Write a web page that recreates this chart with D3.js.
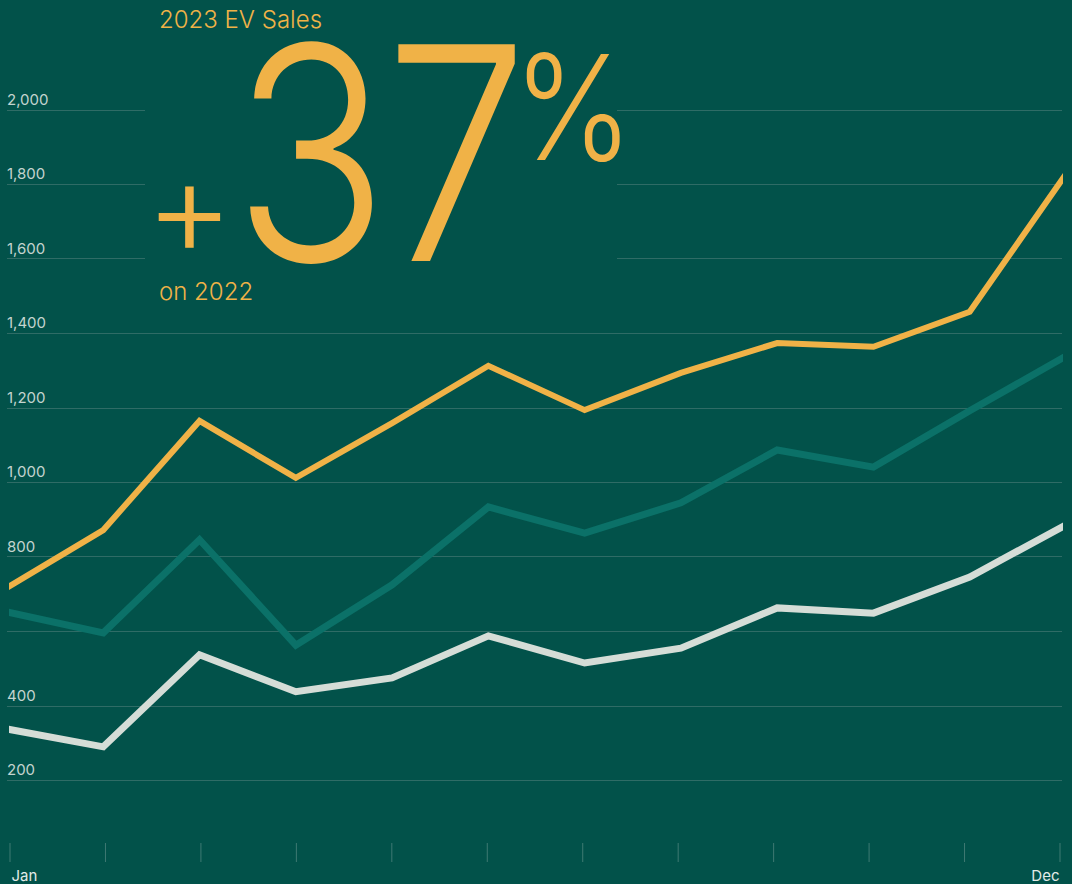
<!DOCTYPE html>
<html>
<head>
<meta charset="utf-8">
<script src="https://cdn.jsdelivr.net/npm/d3@7"></script>
<style>
  html, body { margin: 0; padding: 0; background: #02524a; }
  svg { display: block; font-family: Inter, "Noto Sans", sans-serif; }
</style>
</head>
<body>
<div class="figure"></div>
<script>
// monthly EV sales, three years
var months = ["Jan", "Feb", "Mar", "Apr", "May", "Jun", "Jul", "Aug", "Sep", "Oct", "Nov", "Dec"]
var sales2023 = [716, 871, 1164, 1011, 1158, 1312, 1193, 1293, 1373, 1363, 1457, 1827]
var sales2022 = [651, 595, 845, 562, 724, 933, 863, 944, 1086, 1040, 1191, 1338]
var sales2021 = [337, 289, 536, 437, 474, 587, 514, 554, 662, 648, 745, 885]
var yTicks = [200, 400, 600, 800, 1000, 1200, 1400, 1600, 1800, 2000]
var yLabels = [200, 400, 800, 1000, 1200, 1400, 1600, 1800, 2000]
var xLabels = ["Jan", "Dec"]

var dim = { w: 1072, h: 884 }

var colors = {
    bg: "#02524a",
    grid: "#2f6c66",
    tick: "#3f7a73",
    label: "#c4d4cf",
    xLabel: "#e3ebe8",
    yellow: "#f0b247",
    teal: "#0b7168",
    gray: "#d5ddd7",
}

var svg = d3.select("div.figure")
    .append("svg")
    .attr("width", dim.w)
    .attr("height", dim.h)

svg.append("rect")
    .attr("width", dim.w)
    .attr("height", dim.h)
    .attr("fill", colors.bg)

var yScale = d3.scaleLinear()
    .domain([0, 2000])
    .range([854.5, 109.5])

// lines run a little wider than the tick marks and get clipped
var xLine = d3.scalePoint()
    .domain(months)
    .range([7, 1066])

var xTick = d3.scalePoint()
    .domain(months)
    .range([9.5, 1059.5])

// gridlines
svg.append("g")
    .attr("class", "grid")
    .selectAll("line")
    .data(yTicks)
    .enter()
    .append("line")
    .attr("x1", 7)
    .attr("x2", 1062)
    .attr("y1", function(d) { return Math.round(yScale(d)) + 0.5 })
    .attr("y2", function(d) { return Math.round(yScale(d)) + 0.5 })
    .attr("stroke", colors.grid)
    .attr("stroke-width", 1)

// y labels sit just above their gridline
svg.append("g")
    .attr("class", "y labels")
    .selectAll("text")
    .data(yLabels)
    .enter()
    .append("text")
    .attr("x", 7)
    .attr("y", function(d) { return yScale(d) - 5 })
    .attr("fill", colors.label)
    .style("font-size", "15px")
    .text(d3.format(","))

// x axis: tick marks only, labels for first and last month
var xAxis = d3.axisBottom()
    .scale(xTick)
    .tickSize(19)
    .tickFormat("")

var xg = svg.append("g")
    .attr("class", "x axis")
    .attr("transform", "translate(0,843)")
    .call(xAxis)

xg.select(".domain").remove()
xg.selectAll(".tick line").attr("stroke", colors.tick)

svg.append("g")
    .selectAll("text")
    .data(xLabels)
    .enter()
    .append("text")
    .attr("x", function(d, i) { return i === 0 ? xTick(d) + 2 : xTick(d) })
    .attr("y", 881)
    .attr("text-anchor", function(d, i) { return i === 0 ? "start" : "end" })
    .attr("fill", colors.xLabel)
    .style("font-size", "15px")
    .text(function(d) { return d })

// lines
svg.append("defs")
    .append("clipPath")
    .attr("id", "plot-clip")
    .append("rect")
    .attr("x", 9)
    .attr("y", 0)
    .attr("width", 1054)
    .attr("height", dim.h)

var line = d3.line()
    .x(function(d, i) { return xLine(months[i]) })
    .y(function(d) { return yScale(d) })

var series = [
    { values: sales2021, color: colors.gray, width: 7 },
    { values: sales2022, color: colors.teal, width: 7 },
    { values: sales2023, color: colors.yellow, width: 6 },
]

svg.append("g")
    .attr("clip-path", "url(#plot-clip)")
    .selectAll("path")
    .data(series)
    .enter()
    .append("path")
    .attr("d", function(d) { return line(d.values) })
    .attr("fill", "none")
    .attr("stroke", function(d) { return d.color })
    .attr("stroke-width", function(d) { return d.width })
    .attr("stroke-linejoin", "miter")

// headline block, knocks out the gridlines behind it
var head = svg.append("g").attr("class", "headline")

head.append("rect")
    .attr("x", 145)
    .attr("y", 0)
    .attr("width", 472)
    .attr("height", 308)
    .attr("fill", colors.bg)

head.append("text")
    .attr("x", 159)
    .attr("y", 28)
    .attr("fill", colors.yellow)
    .style("font-size", "24px")
    .style("font-weight", 300)
    .text("2023 EV Sales")

// plus sign is set small, digits large and a bit condensed
head.append("text")
    .attr("x", 145)
    .attr("y", 256)
    .attr("fill", colors.yellow)
    .style("font-size", "136px")
    .style("font-weight", 300)
    .text("+")

head.append("text")
    .attr("transform", "translate(233,261) scale(0.86,1)")
    .attr("fill", colors.yellow)
    .style("font-size", "298px")
    .style("font-weight", 300)
    .style("letter-spacing", "-4px")
    .text("37")

head.append("text")
    .attr("transform", "translate(513,160) scale(0.88,1)")
    .attr("fill", colors.yellow)
    .style("font-size", "146px")
    .style("font-weight", 300)
    .text("%")

head.append("text")
    .attr("x", 159)
    .attr("y", 300)
    .attr("fill", colors.yellow)
    .style("font-size", "24px")
    .style("font-weight", 300)
    .text("on 2022")
</script>
</body>
</html>
